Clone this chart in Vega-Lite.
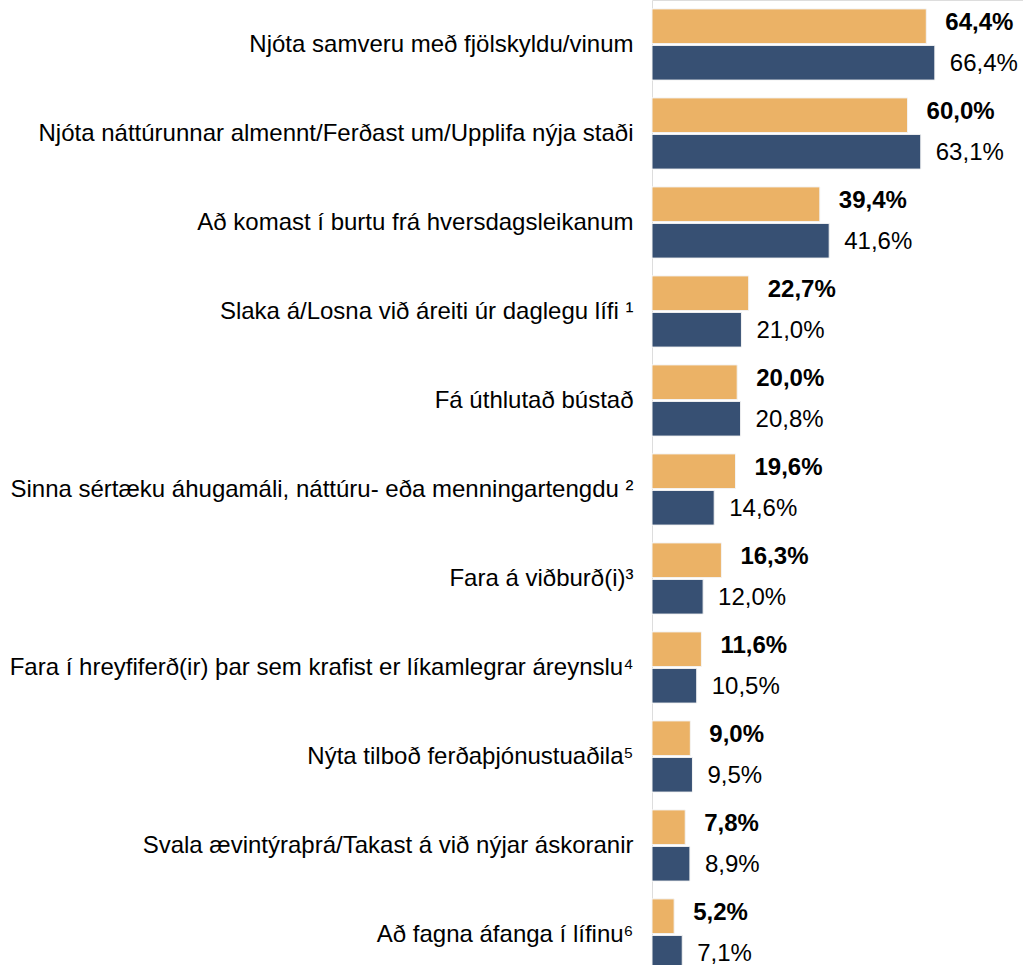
{
  "$schema": "https://vega.github.io/schema/vega-lite/v6.json",
  "width": 371,
  "height": 979,
  "autosize": {"type": "none"},
  "padding": {"left": 652, "top": 0, "right": 0, "bottom": 0},
  "background": "white",
  "data": {
    "values": [
      {"cat": "Njóta samveru með fjölskyldu/vinum", "s": "A", "v": 64.4, "t": "64,4%"},
      {"cat": "Njóta samveru með fjölskyldu/vinum", "s": "B", "v": 66.4, "t": "66,4%"},
      {"cat": "Njóta náttúrunnar almennt/Ferðast um/Upplifa nýja staði", "s": "A", "v": 60.0, "t": "60,0%"},
      {"cat": "Njóta náttúrunnar almennt/Ferðast um/Upplifa nýja staði", "s": "B", "v": 63.1, "t": "63,1%"},
      {"cat": "Að komast í burtu frá hversdagsleikanum", "s": "A", "v": 39.4, "t": "39,4%"},
      {"cat": "Að komast í burtu frá hversdagsleikanum", "s": "B", "v": 41.6, "t": "41,6%"},
      {"cat": "Slaka á/Losna við áreiti úr daglegu lífi ¹", "s": "A", "v": 22.7, "t": "22,7%"},
      {"cat": "Slaka á/Losna við áreiti úr daglegu lífi ¹", "s": "B", "v": 21.0, "t": "21,0%"},
      {"cat": "Fá úthlutað bústað", "s": "A", "v": 20.0, "t": "20,0%"},
      {"cat": "Fá úthlutað bústað", "s": "B", "v": 20.8, "t": "20,8%"},
      {"cat": "Sinna sértæku áhugamáli, náttúru- eða menningartengdu ²", "s": "A", "v": 19.6, "t": "19,6%"},
      {"cat": "Sinna sértæku áhugamáli, náttúru- eða menningartengdu ²", "s": "B", "v": 14.6, "t": "14,6%"},
      {"cat": "Fara á viðburð(i)³", "s": "A", "v": 16.3, "t": "16,3%"},
      {"cat": "Fara á viðburð(i)³", "s": "B", "v": 12.0, "t": "12,0%"},
      {"cat": "Fara í hreyfiferð(ir) þar sem krafist er líkamlegrar áreynslu⁴", "s": "A", "v": 11.6, "t": "11,6%"},
      {"cat": "Fara í hreyfiferð(ir) þar sem krafist er líkamlegrar áreynslu⁴", "s": "B", "v": 10.5, "t": "10,5%"},
      {"cat": "Nýta tilboð ferðaþjónustuaðila⁵", "s": "A", "v": 9.0, "t": "9,0%"},
      {"cat": "Nýta tilboð ferðaþjónustuaðila⁵", "s": "B", "v": 9.5, "t": "9,5%"},
      {"cat": "Svala ævintýraþrá/Takast á við nýjar áskoranir", "s": "A", "v": 7.8, "t": "7,8%"},
      {"cat": "Svala ævintýraþrá/Takast á við nýjar áskoranir", "s": "B", "v": 8.9, "t": "8,9%"},
      {"cat": "Að fagna áfanga í lífinu⁶", "s": "A", "v": 5.2, "t": "5,2%"},
      {"cat": "Að fagna áfanga í lífinu⁶", "s": "B", "v": 7.1, "t": "7,1%"}
    ]
  },
  "encoding": {
    "y": {
      "field": "cat", "type": "nominal", "sort": null,
      "scale": {"paddingInner": 0.2, "paddingOuter": 0.1},
      "axis": {
        "title": null, "domain": false, "ticks": false, "labelPadding": 19,
        "labelFont": "Liberation Sans", "labelFontSize": 24, "labelColor": "#000000",
        "labelLimit": 700
      }
    },
    "yOffset": {"field": "s", "type": "nominal", "scale": {"paddingInner": 0.05}},
    "x": {
      "field": "v", "type": "quantitative",
      "scale": {"domain": [0, 87.1], "nice": false, "zero": true},
      "axis": null
    }
  },
  "layer": [
    {
      "mark": {"type": "bar", "stroke": "#f4f4f4", "strokeWidth": 1},
      "encoding": {
        "color": {
          "field": "s", "type": "nominal",
          "scale": {"domain": ["A", "B"], "range": ["#EBB266", "#375073"]},
          "legend": null
        }
      }
    },
    {
      "transform": [{"filter": "datum.s === 'A'"}],
      "mark": {"type": "text", "align": "left", "baseline": "middle", "dx": 19, "dy": -3, "font": "Liberation Sans", "fontSize": 24, "fontWeight": "bold", "color": "#000000"},
      "encoding": {"text": {"field": "t"}}
    },
    {
      "transform": [{"filter": "datum.s === 'B'"}],
      "mark": {"type": "text", "align": "left", "baseline": "middle", "dx": 15, "dy": 1, "font": "Liberation Sans", "fontSize": 24, "color": "#000000"},
      "encoding": {"text": {"field": "t"}}
    }
  ]
}
